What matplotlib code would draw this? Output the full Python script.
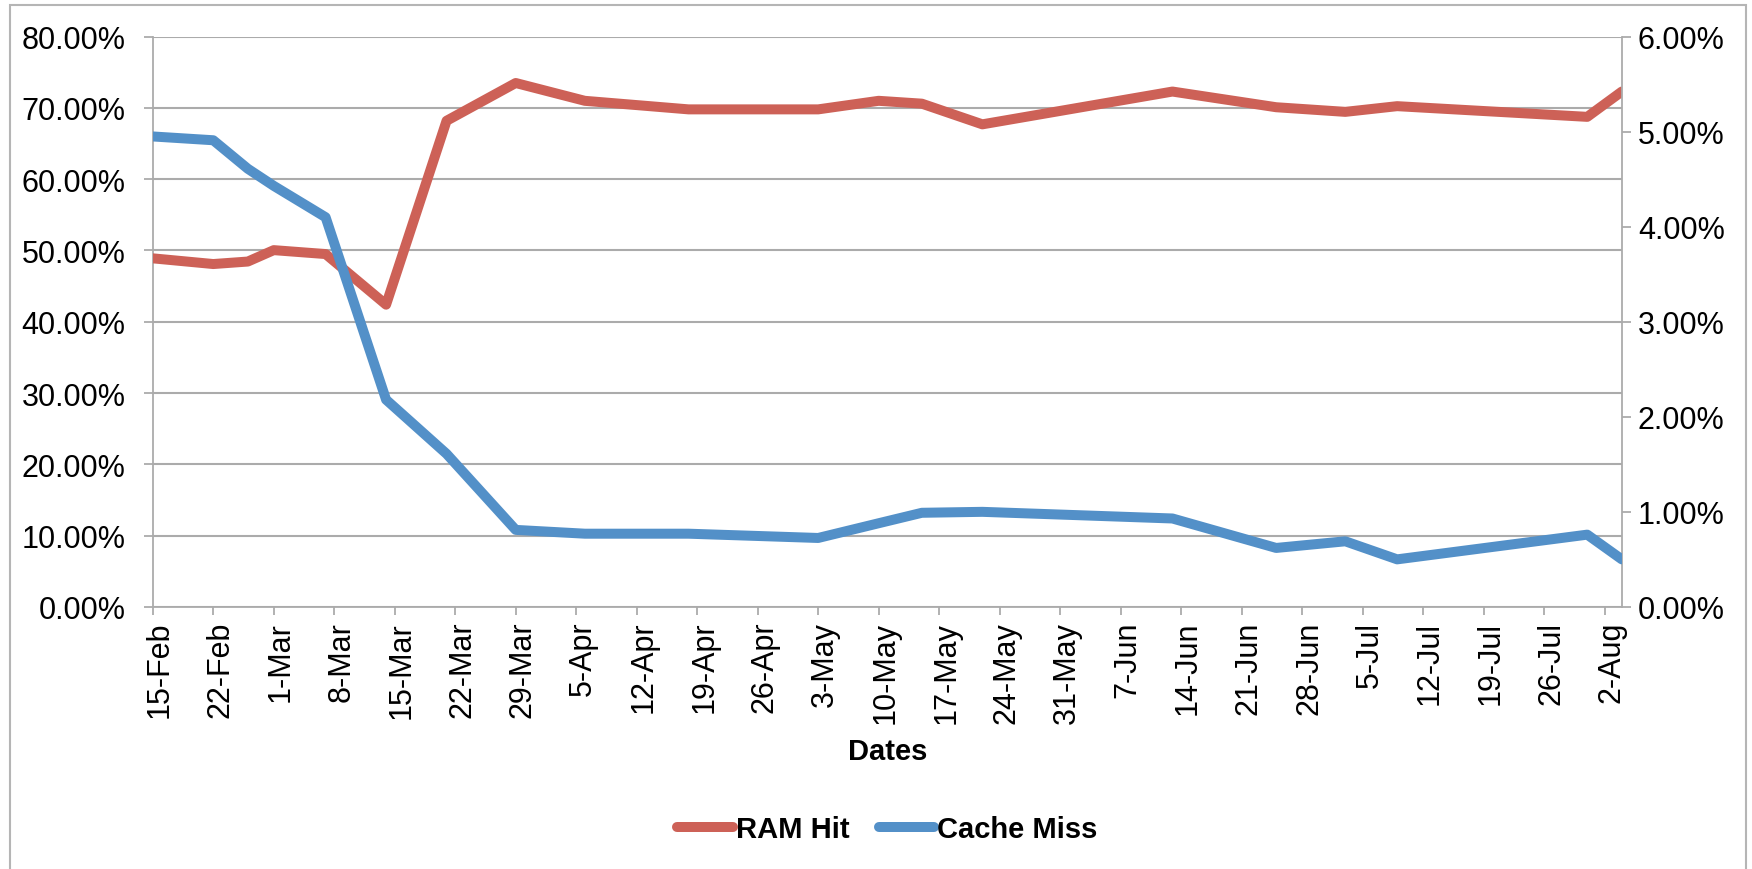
import matplotlib
matplotlib.use("Agg")
import matplotlib.pyplot as plt
import matplotlib.dates as mdates
import matplotlib.transforms as mtransforms
from matplotlib.patches import Rectangle
from matplotlib.ticker import FuncFormatter, MultipleLocator
import pandas as pd

plt.rcParams['font.family'] = ['Liberation Sans', 'DejaVu Sans']

# weekly samples, values in percent
dates = ["2013-02-15", "2013-02-22", "2013-02-26", "2013-03-01", "2013-03-07",
         "2013-03-14", "2013-03-21", "2013-03-29", "2013-04-06", "2013-04-18",
         "2013-05-03", "2013-05-10", "2013-05-15", "2013-05-22", "2013-06-13",
         "2013-06-25", "2013-07-03", "2013-07-09", "2013-07-31", "2013-08-04"]
ram_hit = [48.9, 48.1, 48.45, 50.05, 49.5, 42.4, 68.2, 73.5, 71.0, 69.8,
           69.8, 71.0, 70.6, 67.7, 72.3, 70.1, 69.45, 70.25, 68.75, 72.3]
cache_miss = [4.95, 4.91, 4.61, 4.43, 4.10, 2.18, 1.61, 0.81, 0.77, 0.77,
              0.725, 0.88, 0.99, 1.00, 0.93, 0.62, 0.69, 0.50, 0.76, 0.50]

x = pd.to_datetime(dates)
week_ticks = pd.date_range("2013-02-15", "2013-08-02", freq="7D")

red = "#CD6157"
blue = "#5390C8"
grey = "#ABABAB"
fs = 22
fs_bold = 21

fig = plt.figure(figsize=(17.52, 8.7), dpi=100)
l, r, b, t = 0.0872, 0.9257, 0.3013, 0.9567
ax = fig.add_axes([l, b, r - l, t - b])
ax2 = ax.twinx()

ax.plot(x, ram_hit, color=red, lw=7.2, solid_capstyle="round",
        solid_joinstyle="round", label="RAM Hit", zorder=3)
ax2.plot(x, cache_miss, color=blue, lw=7.2, solid_capstyle="round",
         solid_joinstyle="round", label="Cache Miss", zorder=3)

ax.set_xlim(x[0], x[-1])
ax.set_ylim(0, 80)
ax2.set_ylim(0, 6)
ax.yaxis.set_major_locator(MultipleLocator(10))
ax2.yaxis.set_major_locator(MultipleLocator(1))
pct = FuncFormatter(lambda v, p: f"{v:.2f}%")
ax.yaxis.set_major_formatter(pct)
ax2.yaxis.set_major_formatter(pct)

ax.set_xticks(week_ticks)
ax.xaxis.set_major_formatter(mdates.DateFormatter("%-d-%b"))
ax.tick_params(axis="x", labelrotation=90, labelsize=fs, length=6,
               width=1.3, color=grey, pad=4)
ax.tick_params(axis="y", labelsize=fs, length=6.5, width=1.3, color=grey, pad=13)
ax2.tick_params(axis="y", labelsize=fs, length=6.5, width=1.3, color=grey, pad=5)

shift = mtransforms.ScaledTranslation(7 / 100, 0, fig.dpi_scale_trans)
for lab in ax.get_xticklabels():
    lab.set_transform(lab.get_transform() + shift)

ax.grid(axis="y", color=grey, lw=1.5)
ax.set_axisbelow(True)
for a in (ax, ax2):
    a.spines["top"].set_visible(False)
    for s in ("left", "right", "bottom"):
        a.spines[s].set_color(grey)
        a.spines[s].set_linewidth(1.3)
ax2.spines["left"].set_visible(False)
ax2.spines["bottom"].set_visible(False)
ax.spines["right"].set_visible(False)

fig.text((l + r) / 2, 1 - 752 / 870, "Dates", ha="center", va="center",
         fontsize=fs_bold, fontweight="bold")

h1, l1 = ax.get_legend_handles_labels()
h2, l2 = ax2.get_legend_handles_labels()
fig.legend(h1 + h2, l1 + l2, loc="center", bbox_to_anchor=((l + r) / 2, 1 - 830 / 870),
           ncol=2, frameon=False, handlelength=1.9, handletextpad=0.1,
           columnspacing=1.0, prop={"size": fs_bold, "weight": "bold"})

fig.add_artist(Rectangle((10 / 1752, -0.05), 1736 / 1752, 1.05 - 6 / 870,
                         transform=fig.transFigure, fill=False,
                         edgecolor="#B5B5B5", lw=1.5))

fig.savefig("out.png", dpi=100)
